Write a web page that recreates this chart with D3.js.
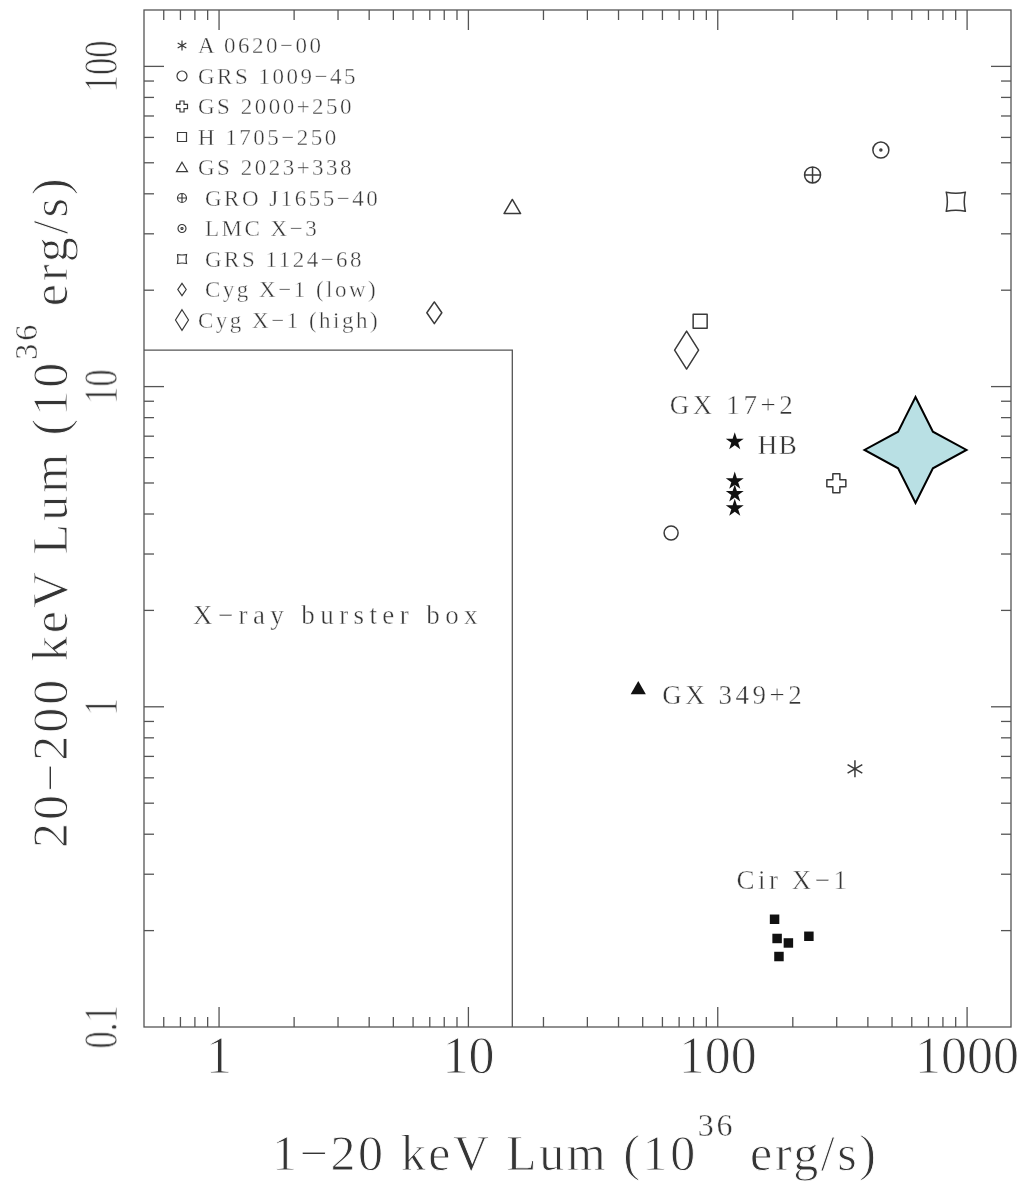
<!DOCTYPE html>
<html>
<head>
<meta charset="utf-8">
<script src="https://cdn.jsdelivr.net/npm/d3@7"></script>
<style>
  html, body { margin: 0; padding: 0; background: #fff; }
  svg { display: block; }
  text { font-family: "Liberation Serif", "Times New Roman", serif; fill: #333; }
  /* thin the large glyphs with a white edge painted over the fill */
  text.big { fill: #333; stroke: #fff; stroke-width: 0.9px; paint-order: fill; }
  text.mid { fill: #333; stroke: #fff; stroke-width: 0.4px; paint-order: fill; }
  tspan.sup { stroke-width: 0.4px; }
  /* grayscale anti-aliasing for all labels */
  g.labels { opacity: 0.99; }
</style>
</head>
<body>
<svg id="chart" width="1021" height="1183"></svg>
<script>
// ---- black-hole candidates (legend entries) ----
const sourceNames   = ["A 0620\u221200", "GRS 1009\u221245", "GS 2000+250", "H 1705\u2212250", "GS 2023+338",
                       "GRO J1655\u221240", "LMC X\u22123", "GRS 1124\u221268", "Cyg X\u22121 (low)", "Cyg X\u22121 (high)"];
const sourceSymbols = ["asterisk", "circle", "cross", "square", "triangle",
                       "oplus", "odot", "concave", "diamondSmall", "diamondLarge"];
const sourceSoftLum = [355, 65, 299, 85, 15.0, 240, 451, 901, 7.3, 75];      // 1-20 keV
const sourceHardLum = [0.64, 3.49, 4.99, 16.0, 36.3, 45.8, 54.8, 37.8, 17.0, 13.0]; // 20-200 keV

// ---- neutron-star systems ----
const gx17Soft  = [117, 117, 117, 117];
const gx17Hard  = [6.73, 5.07, 4.62, 4.17];
const gx349Soft = [48];
const gx349Hard = [1.13];
const cirSoft   = [169, 173, 192, 176, 232];
const cirHard   = [0.217, 0.189, 0.183, 0.166, 0.192];

// ---- highlighted source ----
const newSoft = [621];
const newHard = [6.34];

// ---- X-ray burster region ----
const bursterBoxSoft = [0.5, 15];
const bursterBoxHard = [0.1, 13];

// ---- axes ----
const xDomain = [0.5, 1500];
const yDomain = [0.1, 150];
const xTickValues = [1, 10, 100, 1000];
const yTickValues = [0.1, 1, 10, 100];
const xTickLabels = ["1", "10", "100", "1000"];
const yTickLabels = ["0.1", "1", "10", "100"];

const plot = { left: 144, right: 1011, top: 10, bottom: 1027 };
const lineColor = "#555";
const markColor = "#3a3a3a";

const svg = d3.select("#chart");
const labels = svg.append("g").attr("class", "labels");
const x = d3.scaleLog().domain(xDomain).range([plot.left, plot.right]);
const y = d3.scaleLog().domain(yDomain).range([plot.bottom, plot.top]);

const isDecade = v => Math.abs(Math.log10(v) - Math.round(Math.log10(v))) < 1e-9;
const inside = (v, dom) => v > dom[0] * 1.0001 && v < dom[1] * 0.9999;
const xMinor = x.ticks().filter(v => !isDecade(v) && inside(v, xDomain));
const yMinor = y.ticks().filter(v => !isDecade(v) && inside(v, yDomain));

// ---- frame ----
svg.append("rect")
  .attr("x", plot.left).attr("y", plot.top)
  .attr("width", plot.right - plot.left).attr("height", plot.bottom - plot.top)
  .attr("fill", "none").attr("stroke", lineColor).attr("stroke-width", 1.3);

// ---- ticks on all four sides, pointing inward ----
const tickG = svg.append("g").attr("stroke", lineColor).attr("stroke-width", 1.3);
function xTicks(values, len) {
  tickG.selectAll(null).data(values).join("line")
    .attr("x1", d => x(d)).attr("x2", d => x(d))
    .attr("y1", plot.bottom).attr("y2", plot.bottom - len);
  tickG.selectAll(null).data(values).join("line")
    .attr("x1", d => x(d)).attr("x2", d => x(d))
    .attr("y1", plot.top).attr("y2", plot.top + len);
}
function yTicks(values, len) {
  tickG.selectAll(null).data(values).join("line")
    .attr("y1", d => y(d)).attr("y2", d => y(d))
    .attr("x1", plot.left).attr("x2", plot.left + len);
  tickG.selectAll(null).data(values).join("line")
    .attr("y1", d => y(d)).attr("y2", d => y(d))
    .attr("x1", plot.right).attr("x2", plot.right - len);
}
xTicks(xTickValues.filter(v => inside(v, xDomain)), 20);
xTicks(xMinor, 10);
yTicks(yTickValues.filter(v => inside(v, yDomain)), 20);
yTicks(yMinor, 10);

// ---- tick labels ----
labels.append("g").selectAll("text").data(xTickValues).join("text")
  .attr("class", "big")
  .attr("x", d => x(d)).attr("y", 1073)
  .attr("text-anchor", "middle").attr("font-size", 52)
  .text((d, i) => xTickLabels[i]);

labels.append("g").selectAll("g").data(yTickValues).join("g")
  .attr("transform", d => `translate(117,${y(d)}) rotate(-90) scale(0.72,1)`)
  .append("text")
  .attr("class", "big")
  .attr("text-anchor", "middle").attr("font-size", 48)
  .text((d, i) => yTickLabels[i]);

// ---- axis titles ----
const xTitle = labels.append("text")
  .attr("class", "big")
  .attr("x", 272).attr("y", 1170)
  .attr("font-size", 50).attr("letter-spacing", 2.6);
xTitle.append("tspan").text("1\u221220 keV Lum (10");
xTitle.append("tspan").attr("class", "sup").attr("font-size", 32).attr("dy", -34).text("36");
xTitle.append("tspan").attr("dy", 34).text(" erg/s)");

const yTitle = labels.append("text")
  .attr("class", "big")
  .attr("transform", "translate(67,848) rotate(-90)")
  .attr("font-size", 50).attr("letter-spacing", 3);
yTitle.append("tspan").text("20\u2212200 keV Lum (10");
yTitle.append("tspan").attr("class", "sup").attr("font-size", 32).attr("dy", -30).text("36");
yTitle.append("tspan").attr("dy", 30).text(" erg/s)");

// ---- burster box ----
svg.append("path")
  .attr("d", d3.line()([
    [x(bursterBoxSoft[0]), y(bursterBoxHard[1])],
    [x(bursterBoxSoft[1]), y(bursterBoxHard[1])],
    [x(bursterBoxSoft[1]), y(bursterBoxHard[0])]
  ]))
  .attr("fill", "none").attr("stroke", lineColor).attr("stroke-width", 1.3);
labels.append("text")
  .attr("class", "mid")
  .attr("x", x(bursterBoxSoft[0]) + 49).attr("y", 624)
  .attr("font-size", 27).attr("letter-spacing", 5.4)
  .text("X\u2212ray burster box");

// ---- marker shapes (open outlines, centred at the origin) ----
function shapePath(type, r) {
  const p = d3.path();
  const poly = pts => { p.moveTo(pts[0][0], pts[0][1]); pts.slice(1).forEach(q => p.lineTo(q[0], q[1])); p.closePath(); };
  switch (type) {
    case "asterisk":
      [90, 30, 150].forEach(a => {
        const t = a * Math.PI / 180;
        p.moveTo(-r * Math.cos(t), -r * Math.sin(t));
        p.lineTo(r * Math.cos(t), r * Math.sin(t));
      });
      break;
    case "circle":
      p.moveTo(r, 0); p.arc(0, 0, r, 0, 2 * Math.PI); break;
    case "cross": {
      const a = r * 0.37;
      poly([[-a,-r],[a,-r],[a,-a],[r,-a],[r,a],[a,a],[a,r],[-a,r],[-a,a],[-r,a],[-r,-a],[-a,-a]]);
      break;
    }
    case "square":
      p.rect(-r, -r, 2 * r, 2 * r); break;
    case "triangle":
      poly([[0, -r * 0.95], [r, r * 0.75], [-r, r * 0.75]]); break;
    case "oplus":
      p.moveTo(r, 0); p.arc(0, 0, r, 0, 2 * Math.PI);
      p.moveTo(-r, 0); p.lineTo(r, 0); p.moveTo(0, -r); p.lineTo(0, r); break;
    case "odot":
      p.moveTo(r, 0); p.arc(0, 0, r, 0, 2 * Math.PI);
      p.moveTo(1, 0); p.arc(0, 0, 1, 0, 2 * Math.PI); break;
    case "concave": {
      const c = r * 0.78, e = r * 1.08;
      p.moveTo(-r, -r);
      p.quadraticCurveTo(0, -c, r, -r);
      p.quadraticCurveTo(c, 0, r, r);
      p.quadraticCurveTo(0, c, -r, r);
      p.quadraticCurveTo(-c, 0, -r, -r);
      [[-1,-1],[1,-1],[1,1],[-1,1]].forEach(([sx, sy]) => {
        p.moveTo(sx * r, sy * r); p.lineTo(sx * e, sy * r);
        p.moveTo(sx * r, sy * r); p.lineTo(sx * r, sy * e);
      });
      break;
    }
    case "diamondSmall":
      poly([[0, -r * 1.45], [r, 0], [0, r * 1.45], [-r, 0]]); break;
    case "diamondLarge":
      poly([[0, -r * 1.58], [r, 0], [0, r * 1.58], [-r, 0]]); break;
  }
  return p.toString();
}

const plotSize   = { asterisk: 8.5, circle: 7, cross: 9.5, square: 7, triangle: 8.3, oplus: 8,
                     odot: 8, concave: 9.5, diamondSmall: 7.5, diamondLarge: 12 };
const legendSize = { asterisk: 5, circle: 5, cross: 5.5, square: 4.5, triangle: 5.5, oplus: 4.5,
                     odot: 4, concave: 4.5, diamondSmall: 4.2, diamondLarge: 6.5 };

// ---- black-hole candidate markers ----
svg.append("g").selectAll("path").data(sourceNames).join("path")
  .attr("transform", (d, i) => `translate(${x(sourceSoftLum[i])},${y(sourceHardLum[i])})`)
  .attr("d", (d, i) => shapePath(sourceSymbols[i], plotSize[sourceSymbols[i]]))
  .attr("fill", "none").attr("stroke", markColor).attr("stroke-width", 1.5)
  .attr("stroke-linejoin", "round");

// ---- legend ----
const legendRow = i => 45.5 + i * 30.5;
svg.append("g").selectAll("path").data(sourceNames).join("path")
  .attr("transform", (d, i) => `translate(182,${legendRow(i)})`)
  .attr("d", (d, i) => shapePath(sourceSymbols[i], legendSize[sourceSymbols[i]]))
  .attr("fill", "none").attr("stroke", markColor).attr("stroke-width", 1.2);
labels.append("g").selectAll("text").data(sourceNames).join("text")
  .attr("class", "mid")
  .attr("x", (d, i) => (i >= 5 && i <= 8) ? 205 : 198)
  .attr("y", (d, i) => legendRow(i) + 7.5)
  .attr("font-size", 23).attr("letter-spacing", 2.5)
  .text(d => d);

// ---- GX 17+2 (filled stars) ----
const starSym = d3.symbol(d3.symbolStar, 100);
svg.append("g").selectAll("path").data(gx17Soft).join("path")
  .attr("transform", (d, i) => `translate(${x(d)},${y(gx17Hard[i])})`)
  .attr("d", starSym).attr("fill", "#111");
labels.append("text")
  .attr("class", "mid")
  .attr("x", x(gx17Soft[0]) - 65).attr("y", y(gx17Hard[0]) - 28)
  .attr("font-size", 27).attr("letter-spacing", 3.6).text("GX 17+2");
labels.append("text")
  .attr("class", "mid")
  .attr("x", x(gx17Soft[0]) + 23).attr("y", y(gx17Hard[0]) + 12)
  .attr("font-size", 27).attr("letter-spacing", 1.5).text("HB");

// ---- GX 349+2 (filled triangle) ----
svg.append("g").selectAll("path").data(gx349Soft).join("path")
  .attr("transform", (d, i) => `translate(${x(d)},${y(gx349Hard[i])})`)
  .attr("d", d3.symbol(d3.symbolTriangle, 100)).attr("fill", "#111");
labels.append("text")
  .attr("class", "mid")
  .attr("x", x(gx349Soft[0]) + 24).attr("y", y(gx349Hard[0]) + 14)
  .attr("font-size", 27).attr("letter-spacing", 3.5).text("GX 349+2");

// ---- Cir X-1 (filled squares) ----
svg.append("g").selectAll("path").data(cirSoft).join("path")
  .attr("transform", (d, i) => `translate(${x(d)},${y(cirHard[i])})`)
  .attr("d", d3.symbol(d3.symbolSquare, 90)).attr("fill", "#111");
labels.append("text")
  .attr("class", "mid")
  .attr("x", x(cirSoft[0]) - 38).attr("y", y(d3.max(cirHard)) - 30)
  .attr("font-size", 27).attr("letter-spacing", 3.5).text("Cir X\u22121");

// ---- highlighted source: four-pointed star ----
function fourStar(rx, ry, ix, iy) {
  return d3.line()([[0,-ry],[ix,-iy],[rx,0],[ix,iy],[0,ry],[-ix,iy],[-rx,0],[-ix,-iy]]) + "Z";
}
svg.append("g").selectAll("path").data(newSoft).join("path")
  .attr("transform", (d, i) => `translate(${x(d)},${y(newHard[i])})`)
  .attr("d", fourStar(51, 53, 17.4, 18.3))
  .attr("fill", "#b9e0e4").attr("stroke", "#000").attr("stroke-width", 2)
  .attr("stroke-linejoin", "miter");
</script>
</body>
</html>
